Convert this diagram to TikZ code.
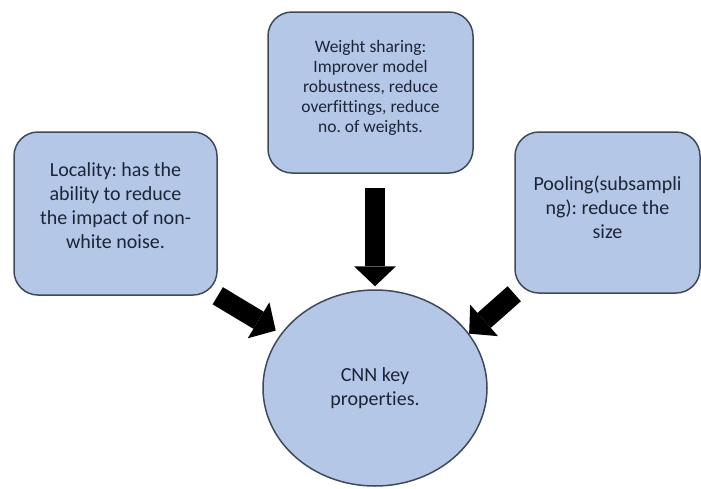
\documentclass[tikz,border=0pt]{standalone}
\usepackage{fontspec}
\setmainfont{Carlito}[Ligatures=NoCommon]
\frenchspacing
\usepackage{tikz}
\usetikzlibrary{shapes.geometric, arrows.meta, positioning}
\definecolor{boxfill}{HTML}{B4C7E7}
\definecolor{boxline}{HTML}{3E4A5C}
\definecolor{boxtext}{HTML}{1C2536}
\tikzset{
  keybox/.style={
    rectangle, rounded corners=24pt,
    draw=boxline, line width=1.5pt, fill=boxfill,
    align=center, text=boxtext, font=\fontsize{20}{24}\selectfont,
  },
  keycircle/.style={
    ellipse,
    minimum width=224pt, minimum height=196pt,
    draw=boxline, line width=1.5pt, fill=boxfill,
    align=center, text=boxtext, font=\fontsize{20}{24}\selectfont,
  },
  bigarrow/.style={-{Triangle[length=20pt 0 0, width=42pt 0 0, line width=0pt 0 0]}, line width=20pt, draw=black},
}

\begin{document}
\begin{tikzpicture}[x=1pt, y=-1pt]
  \useasboundingbox (0,0) rectangle (701,488);

  \node[keycircle] (cnn) at (375,388) {CNN key\\properties.};
  \node[keybox, minimum width=203pt, minimum height=163pt, text depth=16pt] (locality) at (115.5,213.5)
    {Locality: has the\\ability to reduce\\the impact of non-\\white noise.};
  \node[keybox, minimum width=205pt, minimum height=161pt, text depth=12pt,
    font=\fontsize{17.5}{20}\selectfont] (weight) at (370.5,92.5)
    {Weight sharing:\\Improver model\\robustness, reduce\\overfittings, reduce\\no. of weights.};
  \node[keybox, minimum width=185pt, minimum height=161pt, text depth=10pt] (pooling) at (607.5,212.5)
    {Pooling(subsampli\\ng): reduce the\\size};

  \draw[bigarrow, shorten >=6pt] (locality.south east) -- (cnn.150);
  \draw[bigarrow, shorten <=14pt, shorten >=3pt] (cnn.north |- weight.south) -- (cnn.north);
  \draw[bigarrow] (pooling.south west) -- (cnn.30);
\end{tikzpicture}
\end{document}
